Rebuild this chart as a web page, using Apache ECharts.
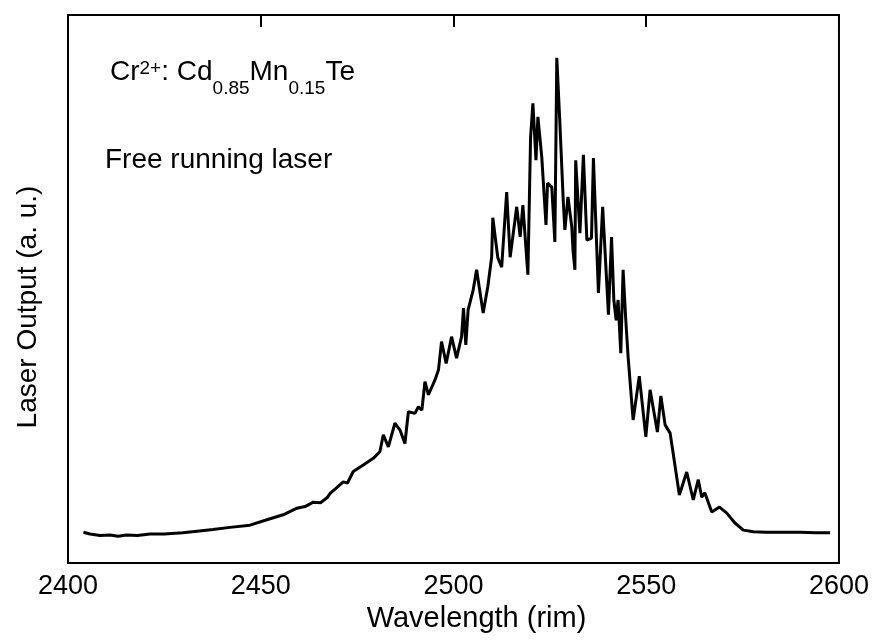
<!DOCTYPE html>
<html>
<head>
<meta charset="utf-8">
<script src="https://cdn.jsdelivr.net/npm/echarts@6/dist/echarts.min.js"></script>
<style>
    html, body { margin: 0; padding: 0; background: #fff; }
    #chart { width: 872px; height: 640px; }
</style>
</head>
<body>
<div id="chart"></div>
<script>
// wavelength (nm) and laser output (a.u.)
var wavelength = [
    2404.0, 2405.7, 2408.3, 2410.9, 2413.0, 2415.2, 2418.0, 2421.3, 2425.0, 2429.8,
    2433.5, 2437.6, 2442.0, 2447.2, 2451.6, 2455.8, 2459.4, 2461.5, 2463.6, 2465.5,
    2467.2, 2468.0, 2469.5, 2471.4, 2472.5, 2474.0, 2476.6, 2479.2, 2480.9, 2481.8,
    2483.1, 2484.8, 2486.1, 2487.4, 2488.3, 2490.0, 2490.9, 2491.8, 2492.6, 2493.5,
    2495.2, 2496.1, 2496.9, 2498.1, 2499.5, 2500.8, 2502.1, 2502.6, 2503.2, 2503.8,
    2505.1, 2506.0, 2507.7, 2508.9,
    2509.9, 2510.2, 2511.5, 2512.5, 2513.8, 2514.7, 2516.4, 2517.3, 2518.0, 2519.3,
    2520.0, 2520.6, 2521.4, 2521.9, 2522.9, 2524.0, 2524.4, 2525.5, 2526.3, 2526.8,
    2527.6, 2528.5, 2528.9, 2529.7, 2530.7, 2531.0, 2531.5, 2531.7, 2532.8, 2533.7,
    2534.6, 2535.8, 2536.3, 2537.6, 2538.7, 2540.2, 2541.0, 2541.6, 2542.2, 2542.7,
    2543.4, 2544.0, 2544.7, 2545.3, 2546.6, 2548.2, 2549.9, 2551.0, 2552.9, 2553.8,
    2554.9, 2556.2, 2558.6, 2560.5, 2562.2, 2563.5, 2564.4, 2565.2, 2567.0, 2569.0,
    2570.9, 2573.0, 2575.2, 2577.8, 2581.0, 2584.7, 2589.9, 2594.0, 2597.7
];
var output = [
    5.6, 5.3, 5.0, 5.1, 4.9, 5.1, 5.0, 5.3, 5.3, 5.5,
    5.8, 6.1, 6.5, 6.9, 7.9, 8.8, 10.0, 10.3, 11.1, 11.0,
    11.9, 12.7, 13.6, 14.8, 14.6, 16.7, 17.9, 19.1, 20.3, 23.4,
    21.2, 25.5, 24.3, 21.8, 27.6, 27.3, 28.5, 27.9, 33.1, 30.7,
    33.4, 35.2, 40.4, 36.4, 41.3, 37.4, 41.3, 46.5, 39.8, 46.2,
    49.8, 53.5, 45.6, 50.4,
    55.8, 63.0, 55.7, 54.0, 67.7, 55.8, 65.0, 59.5, 65.3, 52.6,
    77.7, 83.9, 73.5, 81.4, 74.1, 61.7, 69.3, 68.6, 58.6, 92.2,
    80.3, 65.7, 60.8, 66.8, 61.3, 57.1, 53.5, 73.5, 60.2, 74.5,
    58.9, 59.3, 73.9, 49.3, 65.0, 45.3, 59.5, 48.0, 44.3, 48.0,
    38.3, 53.5, 44.3, 37.6, 26.1, 34.1, 23.0, 31.6, 23.9, 30.5,
    25.2, 23.7, 12.4, 16.6, 11.5, 15.2, 12.0, 12.8, 9.3, 10.2,
    9.1, 7.3, 6.0, 5.7, 5.6, 5.6, 5.6, 5.5, 5.5
];
var xMin = 2400, xMax = 2600, xStep = 50;

var font = 'Liberation Sans, Arial, sans-serif';
var points = wavelength.map(function (w, i) { return [w, output[i]]; });

var chart = echarts.init(document.getElementById('chart'));
chart.setOption({
    animation: false,
    backgroundColor: '#fff',
    grid: {
        left: 68, right: 33, top: 15, bottom: 77,
        show: true, borderColor: '#000', borderWidth: 2, backgroundColor: 'transparent'
    },
    xAxis: [{
        type: 'value', position: 'bottom',
        min: xMin, max: xMax, interval: xStep,
        axisLine: { show: false },
        axisTick: { show: false },
        splitLine: { show: false },
        axisLabel: {
            color: '#000', fontSize: 27, fontFamily: font, margin: 10,
            formatter: function (v) { return String(v); }
        },
        name: 'Wavelength (rim)',
        nameLocation: 'middle',
        nameGap: 41,
        nameTextStyle: { color: '#000', fontSize: 29, fontFamily: font, padding: [0, 0, 0, 46] }
    }, {
        type: 'value', position: 'top',
        min: xMin, max: xMax, interval: xStep,
        axisLine: { show: false },
        axisTick: { show: true, inside: true, length: 12, lineStyle: { color: '#000', width: 2 } },
        axisLabel: { show: false },
        splitLine: { show: false }
    }],
    yAxis: {
        type: 'value', min: 0, max: 100,
        axisLine: { show: false },
        axisTick: { show: false },
        axisLabel: { show: false },
        splitLine: { show: false },
        name: 'Laser Output (a. u.)',
        nameLocation: 'middle',
        nameGap: 26,
        nameTextStyle: { color: '#000', fontSize: 28, fontFamily: font, padding: [0, 36, 0, 0] }
    },
    graphic: [{
        type: 'text', left: 110, top: 46,
        style: {
            text: '{m|Cr}{sup|2+}{m|: Cd}{sub|0.85}{m|Mn}{sub|0.15}{m|Te}',
            rich: {
                m: { fontSize: 28, fontFamily: font, lineHeight: 52, verticalAlign: 'middle', fill: '#000' },
                sup: { fontSize: 19, fontFamily: font, lineHeight: 19, verticalAlign: 'top', padding: [13, 0, 0, 0], fill: '#000' },
                sub: { fontSize: 19, fontFamily: font, lineHeight: 19, verticalAlign: 'bottom', fill: '#000' }
            }
        }
    }, {
        type: 'text', left: 105, top: 146,
        style: { text: 'Free running laser', fontSize: 28, fontFamily: font, fill: '#000' }
    }],
    series: [{
        type: 'line',
        data: points,
        showSymbol: false,
        lineStyle: { color: '#000', width: 3 },
        z: 3
    }]
});
</script>
</body>
</html>
